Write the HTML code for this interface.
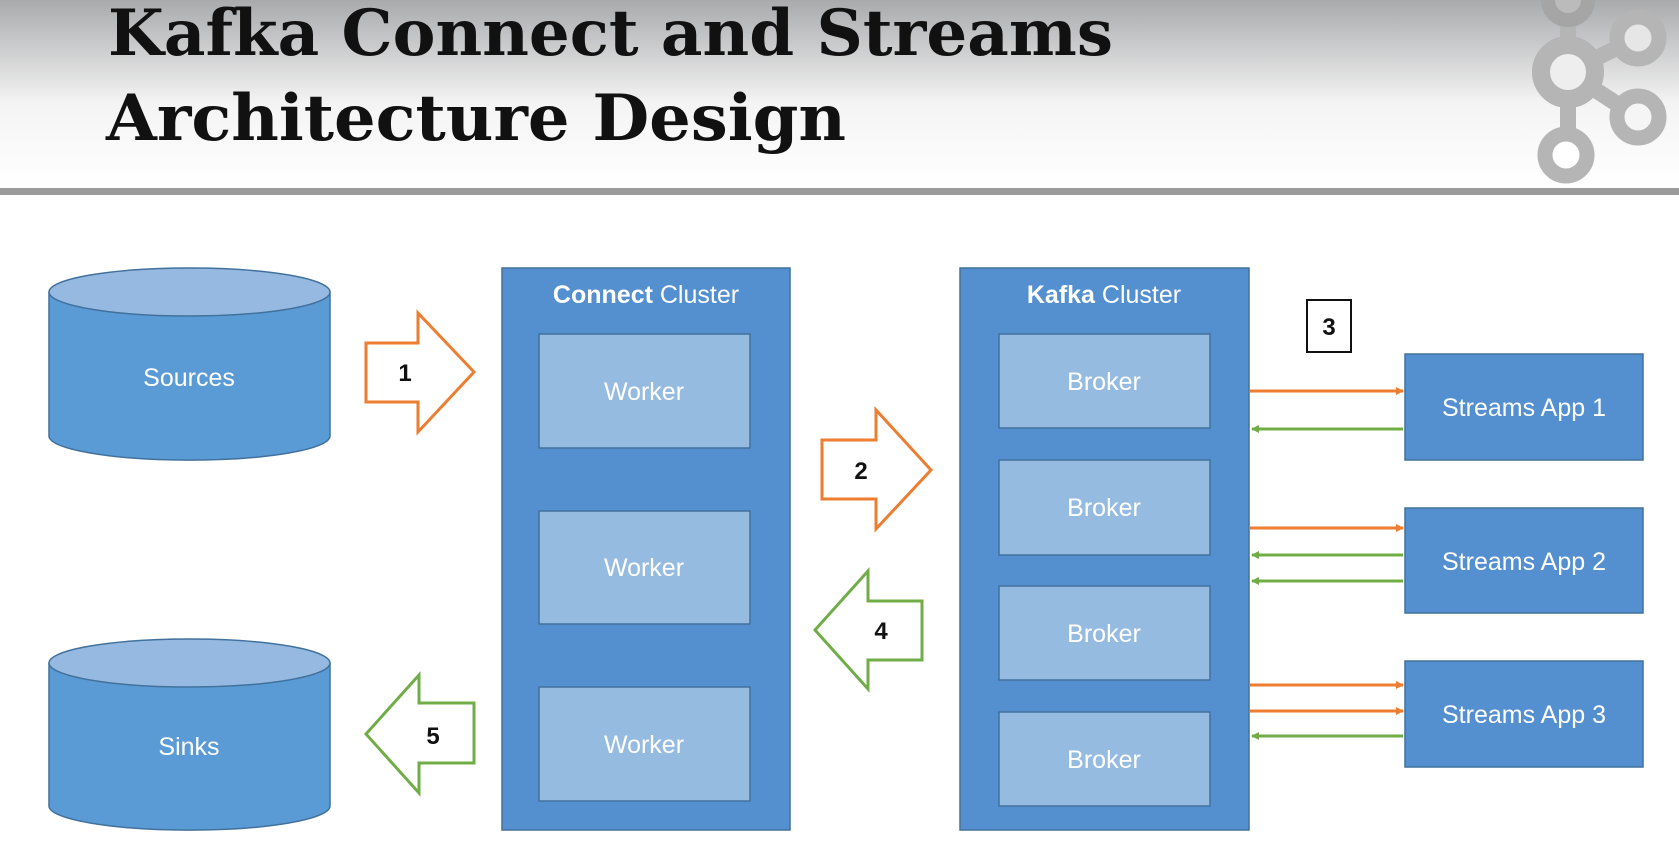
<!DOCTYPE html>
<html><head><meta charset="utf-8"><style>
html,body{margin:0;padding:0;background:#fff;}
svg{display:block}
</style></head><body>
<svg width="1679" height="851" viewBox="0 0 1679 851" xmlns="http://www.w3.org/2000/svg">
<defs>
<linearGradient id="hg" x1="0" y1="0" x2="0" y2="1">
<stop offset="0" stop-color="#a9aaac"/>
<stop offset="0.55" stop-color="#f4f4f4"/>
<stop offset="1" stop-color="#ffffff"/>
</linearGradient>
<marker id="ao" markerWidth="8" markerHeight="8" refX="7" refY="4" orient="auto" markerUnits="userSpaceOnUse"><path d="M0,0 L8,4 L0,8 z" fill="#ED7D31"/></marker>
<marker id="ag" markerWidth="8" markerHeight="8" refX="7" refY="4" orient="auto" markerUnits="userSpaceOnUse"><path d="M0,0 L8,4 L0,8 z" fill="#70AD47"/></marker>
</defs>
<rect x="0" y="0" width="1679" height="188" fill="url(#hg)"/>
<rect x="0" y="188" width="1679" height="7" fill="#9a9a9a"/>
<g font-family="'DejaVu Serif',serif" font-weight="bold" font-size="64" fill="#111">
<text x="108" y="55" textLength="1005" lengthAdjust="spacingAndGlyphs">Kafka Connect and Streams</text>
<text x="106" y="140" textLength="740" lengthAdjust="spacingAndGlyphs">Architecture Design</text>
</g>
<g fill="none" stroke="#b5b5b5">
<line x1="1568" y1="0" x2="1568" y2="155" stroke-width="16"/>
<line x1="1568" y1="72" x2="1637" y2="38" stroke-width="16"/>
<line x1="1568" y1="72" x2="1637" y2="117" stroke-width="16"/>
<circle cx="1568" cy="72" r="27" stroke-width="18" fill="#eee"/>
<circle cx="1568" cy="0" r="20" stroke-width="14" fill="#bbb" stroke="#a5a5a5"/>
<circle cx="1638" cy="38" r="21" stroke-width="15" fill="#e6e6e6"/>
<circle cx="1638" cy="117" r="21" stroke-width="15" fill="#f5f5f5"/>
<circle cx="1566" cy="155" r="21" stroke-width="15" fill="#fff"/>
</g>
<g font-family="'Liberation Sans',sans-serif" font-size="25" fill="#fff" text-anchor="middle">
<path d="M49,292 L49,436 A140,24 0 0 0 330,436 L330,292" fill="#5B9BD5" stroke="#41719C" stroke-width="1.5"/>
<ellipse cx="189.5" cy="292" rx="140.5" ry="24" fill="#95B9E0" stroke="#41719C" stroke-width="1.5"/>
<text x="189" y="386">Sources</text>
<path d="M49,663 L49,806 A140,24 0 0 0 330,806 L330,663" fill="#5B9BD5" stroke="#41719C" stroke-width="1.5"/>
<ellipse cx="189.5" cy="663" rx="140.5" ry="24" fill="#95B9E0" stroke="#41719C" stroke-width="1.5"/>
<text x="189" y="755">Sinks</text>
<rect x="502" y="268" width="288" height="562" fill="#548FCF" stroke="#41719C" stroke-width="1.5"/>
<text x="646" y="303"><tspan font-weight="bold">Connect</tspan> Cluster</text>
<rect x="539" y="334" width="211" height="114" fill="#96BBE1" stroke="#41719C" stroke-width="1.5"/>
<text x="644" y="400">Worker</text>
<rect x="539" y="511" width="211" height="113" fill="#96BBE1" stroke="#41719C" stroke-width="1.5"/>
<text x="644" y="576">Worker</text>
<rect x="539" y="687" width="211" height="114" fill="#96BBE1" stroke="#41719C" stroke-width="1.5"/>
<text x="644" y="753">Worker</text>
<rect x="960" y="268" width="289" height="562" fill="#548FCF" stroke="#41719C" stroke-width="1.5"/>
<text x="1104" y="303"><tspan font-weight="bold">Kafka</tspan> Cluster</text>
<rect x="999" y="334" width="211" height="94" fill="#96BBE1" stroke="#41719C" stroke-width="1.5"/>
<text x="1104" y="390">Broker</text>
<rect x="999" y="460" width="211" height="95" fill="#96BBE1" stroke="#41719C" stroke-width="1.5"/>
<text x="1104" y="516">Broker</text>
<rect x="999" y="586" width="211" height="94" fill="#96BBE1" stroke="#41719C" stroke-width="1.5"/>
<text x="1104" y="642">Broker</text>
<rect x="999" y="712" width="211" height="94" fill="#96BBE1" stroke="#41719C" stroke-width="1.5"/>
<text x="1104" y="768">Broker</text>
<rect x="1405" y="354" width="238" height="106" fill="#548FCF" stroke="#41719C" stroke-width="1.5"/>
<text x="1524" y="416">Streams App 1</text>
<rect x="1405" y="508" width="238" height="105" fill="#548FCF" stroke="#41719C" stroke-width="1.5"/>
<text x="1524" y="570">Streams App 2</text>
<rect x="1405" y="661" width="238" height="106" fill="#548FCF" stroke="#41719C" stroke-width="1.5"/>
<text x="1524" y="723">Streams App 3</text>
</g>
<g stroke-width="3">
<line x1="1250" y1="391" x2="1403" y2="391" stroke="#ED7D31" marker-end="url(#ao)"/>
<line x1="1403" y1="429" x2="1252" y2="429" stroke="#70AD47" marker-end="url(#ag)"/>
<line x1="1250" y1="528" x2="1403" y2="528" stroke="#ED7D31" marker-end="url(#ao)"/>
<line x1="1403" y1="555" x2="1252" y2="555" stroke="#70AD47" marker-end="url(#ag)"/>
<line x1="1403" y1="581" x2="1252" y2="581" stroke="#70AD47" marker-end="url(#ag)"/>
<line x1="1250" y1="685" x2="1403" y2="685" stroke="#ED7D31" marker-end="url(#ao)"/>
<line x1="1250" y1="711" x2="1403" y2="711" stroke="#ED7D31" marker-end="url(#ao)"/>
<line x1="1403" y1="736" x2="1252" y2="736" stroke="#70AD47" marker-end="url(#ag)"/>
</g>
<rect x="1307" y="300" width="44" height="52" fill="#fff" stroke="#111" stroke-width="2"/>
<g fill="#fff" stroke-width="3" stroke-linejoin="miter">
<path d="M366,343 L418,343 L418,313 L474,372 L418,432 L418,402 L366,402 Z" stroke="#ED7D31"/>
<path d="M822,440 L876,440 L876,410 L931,470 L876,529 L876,499 L822,499 Z" stroke="#ED7D31"/>
<path d="M922,601 L868,601 L868,571 L815,630 L868,689 L868,660 L922,660 Z" stroke="#70AD47"/>
<path d="M474,703 L419,703 L419,675 L366,734 L419,793 L419,763 L474,763 Z" stroke="#70AD47"/>
</g>
<g font-family="'Liberation Sans',sans-serif" font-weight="bold" font-size="24" fill="#111" text-anchor="middle">
<text x="405" y="381">1</text>
<text x="861" y="479">2</text>
<text x="1329" y="335">3</text>
<text x="881" y="639">4</text>
<text x="433" y="744">5</text>
</g>
</svg>
</body></html>
